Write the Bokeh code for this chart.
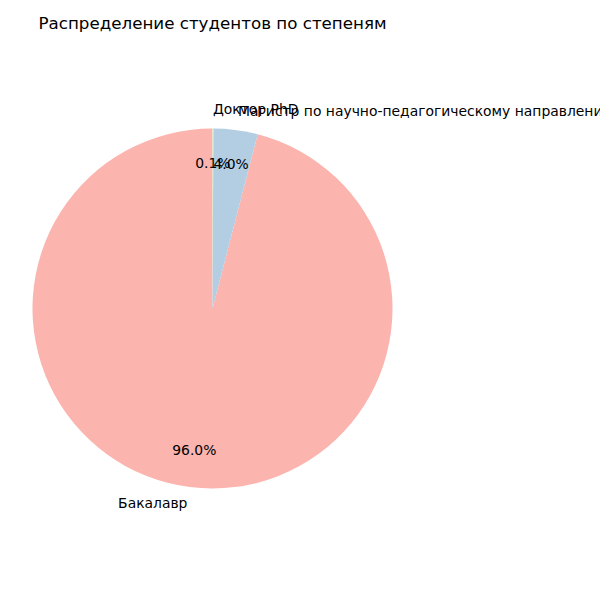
import math
from bokeh.plotting import figure
from bokeh.models import Range1d, ColumnDataSource
from bokeh.core.properties import value
from bokeh.embed import file_html
from bokeh.resources import INLINE

title = "Распределение студентов по степеням"
categories = ["Бакалавр", "Магистр по научно-педагогическому направлению", "Доктор PhD"]
counts = [9596, 396, 8]
colors = ["#fbb4ae", "#b3cde3", "#ccebc5"]

W = H = 600
cx, cy = 212, 600 - 308
R = 180
FONT = value("DejaVu Sans")
DY = 1.5  # small vertical offset to match text centring

p = figure(width=W, height=H, output_backend="svg", toolbar_location=None,
           x_range=Range1d(0, W), y_range=Range1d(0, H), min_border=0)
p.axis.visible = False
p.grid.visible = False
p.outline_line_color = None
p.background_fill_color = "white"
p.border_fill_color = "white"

total = sum(counts)
starts, ends, mids = [], [], []
a = math.pi / 2
for c in counts:
    span = 2 * math.pi * c / total
    starts.append(a)
    ends.append(a + span)
    mids.append(a + span / 2)
    a += span

src = ColumnDataSource(dict(start=starts, end=ends, color=colors))
p.wedge(x=cx, y=cy, radius=R, start_angle="start", end_angle="end",
        fill_color="color", line_color=None, source=src)

# category labels
lx = [cx + 1.1 * R * math.cos(m) for m in mids]
ly = [cy + 1.1 * R * math.sin(m) + DY for m in mids]
align = ["left" if math.cos(m) > 0 else "right" for m in mids]
p.text(x=lx, y=ly, text=categories, text_align=align, text_baseline="middle",
       text_font=FONT, text_font_size="13.9px", text_color="black")

# percentage labels
px = [cx + 0.8 * R * math.cos(m) for m in mids]
py = [cy + 0.8 * R * math.sin(m) + DY for m in mids]
pct = ["%.1f%%" % (100 * c / total) for c in counts]
p.text(x=px, y=py, text=pct, text_align="center", text_baseline="middle",
       text_font=FONT, text_font_size="13.9px", text_color="black")

p.text(x=[cx], y=[H - 22.5], text=[title], text_align="center", text_baseline="middle",
       text_font=FONT, text_font_size="16.7px", text_color="black")

open("out.html", "w").write(file_html(p, INLINE))
